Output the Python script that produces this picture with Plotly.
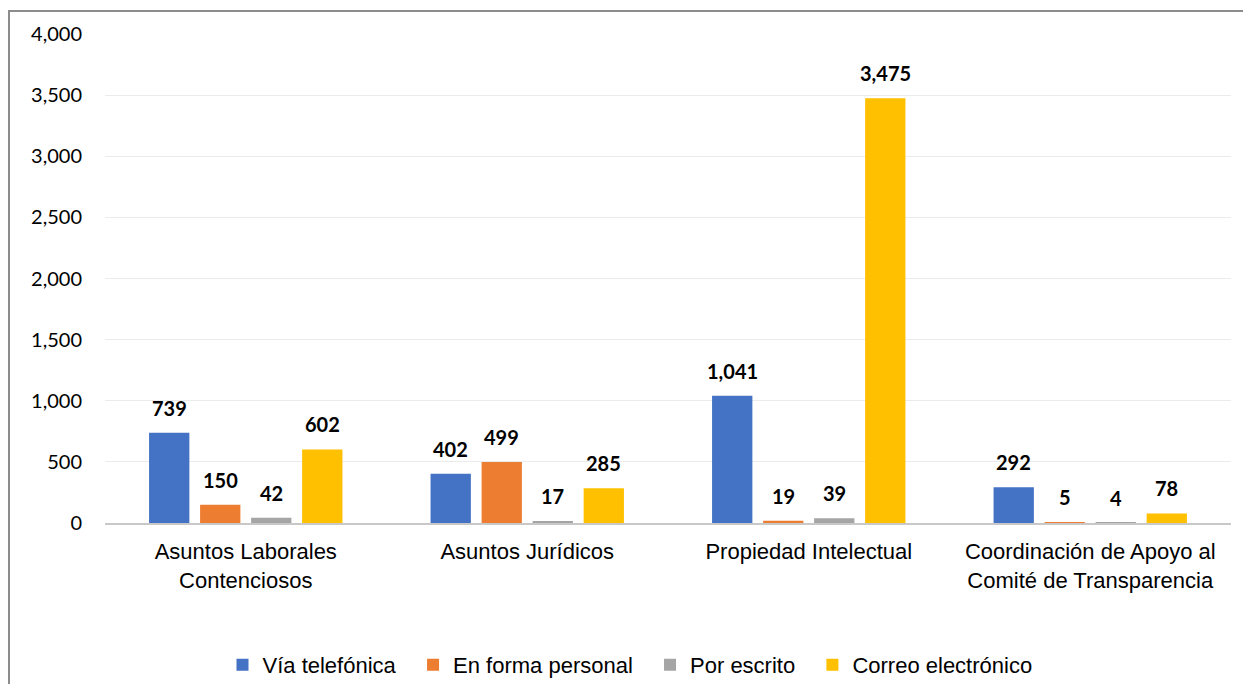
import plotly.graph_objects as go

categories = ["Asuntos Laborales<br>Contenciosos", "Asuntos Jurídicos",
              "Propiedad Intelectual", "Coordinación de Apoyo al<br>Comité de Transparencia"]
series_names = ["Vía telefónica", "En forma personal", "Por escrito", "Correo electrónico"]
via_telefonica = [739, 402, 1041, 292]
en_forma_personal = [150, 499, 19, 5]
por_escrito = [42, 17, 39, 4]
correo_electronico = [602, 285, 3475, 78]
colors = ["#4472C4", "#ED7D31", "#A5A5A5", "#FFC000"]

series = [via_telefonica, en_forma_personal, por_escrito, correo_electronico]

# layout geometry (pixels, figure sits 8px inside the page)
W, H = 1243, 676
L, R, T, B = 97, 20, 26, 161
plot_w = W - L - R
plot_h = H - T - B
bargap = 0.275
groupgap = 0.21
cat_px = plot_w / len(categories)
slot_px = cat_px * (1 - bargap) / len(series)

fig = go.Figure()
for i, (name, vals) in enumerate(zip(series_names, series)):
    fig.add_trace(go.Bar(x=categories, y=vals, name=name + "\u00a0\u00a0", marker_color=colors[i],
                         marker_line_width=0))
    shift = (i - (len(series) - 1) / 2) * slot_px
    for cat, v in zip(categories, vals):
        fig.add_annotation(x=cat, y=v, text=f"<b>{v:,}</b>", showarrow=False,
                           xshift=shift, yshift=11, yanchor="bottom",
                           font=dict(family="Lato, Open Sans, sans-serif", size=20, color="black"))

# outer frame
fig.add_shape(type="rect", xref="paper", yref="paper",
              x0=(1 - L) / plot_w, x1=(W - 4 - L) / plot_w,
              y0=-(H + 20 - T - plot_h) / plot_h, y1=1 + (T - 3) / plot_h,
              line=dict(color="#8c8c8c", width=2), layer="below")

fig.update_layout(
    width=W, height=H,
    margin=dict(l=L, r=R, t=T, b=B, autoexpand=False),
    barmode="group", bargap=bargap, bargroupgap=groupgap,
    plot_bgcolor="white", paper_bgcolor="white",
    font=dict(family="Liberation Sans, Arial, sans-serif", color="#000000"),
    legend=dict(orientation="h", x=(628 - L) / plot_w, xanchor="center",
                y=-(657 - T - plot_h) / plot_h, yanchor="middle",
                font=dict(size=22, family="Liberation Sans, Arial, sans-serif"),
                itemwidth=30, traceorder="normal"),
    showlegend=True,
)
fig.update_yaxes(range=[0, 4000], dtick=500, tickformat=",", gridcolor="#ebebeb", gridwidth=1,
                 showline=False, zeroline=False, ticks="", ticklabelstandoff=22,
                 tickfont=dict(family="Lato, Open Sans, sans-serif", size=20, color="#000000"))
fig.update_xaxes(showline=True, linecolor="#c8c8c8", linewidth=1.5, ticks="", ticklabelstandoff=8,
                 tickfont=dict(size=22, family="Liberation Sans, Arial, sans-serif", color="#000000"))

fig.write_html("out.html")
